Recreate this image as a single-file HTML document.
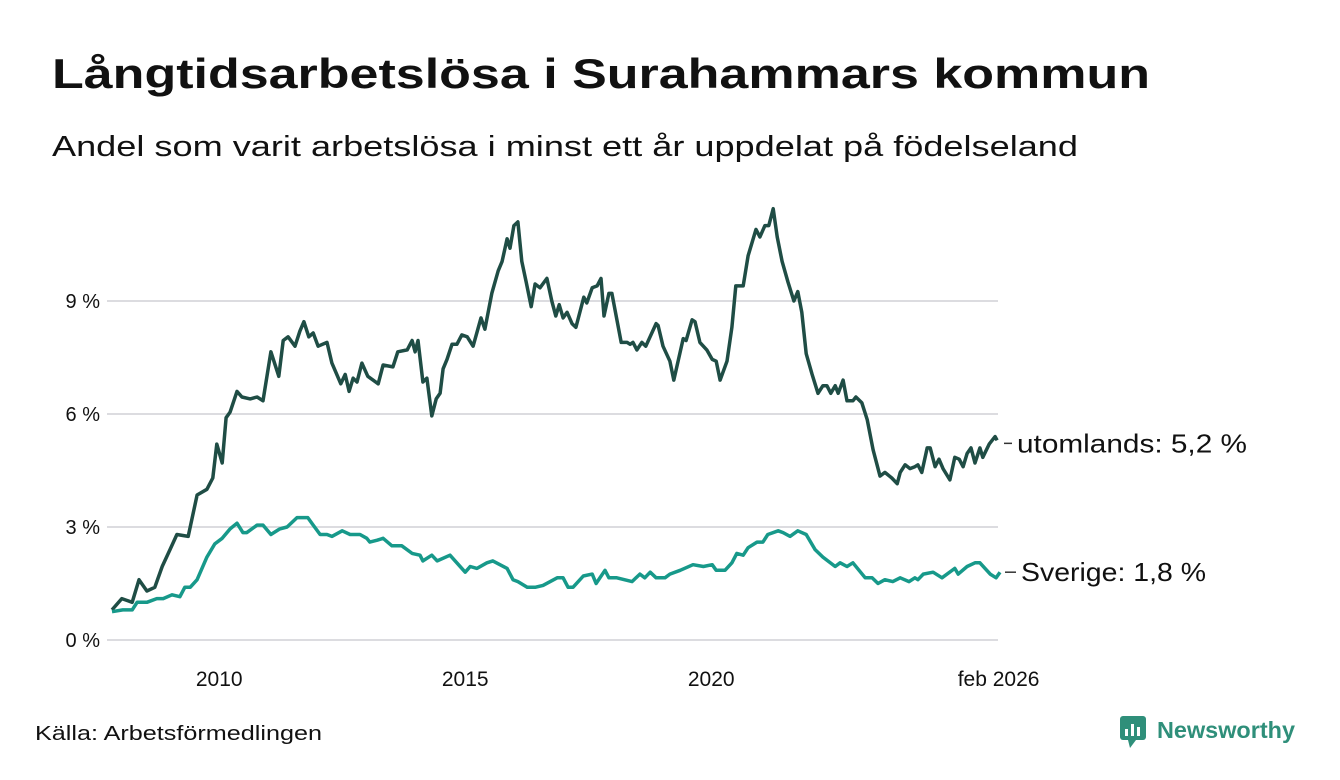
<!DOCTYPE html>
<html><head><meta charset="utf-8">
<style>
html,body{margin:0;padding:0;background:#fff;}
svg{display:block;font-family:"Liberation Sans",sans-serif;}
</style></head>
<body>
<svg id="chart" width="1340" height="780" viewBox="0 0 1340 780">
<text x="52" y="88" font-size="42" font-weight="bold" fill="#111" textLength="1098" lengthAdjust="spacingAndGlyphs">Långtidsarbetslösa i Surahammars kommun</text>
<text x="52" y="156" font-size="29" fill="#111" textLength="1026" lengthAdjust="spacingAndGlyphs">Andel som varit arbetslösa i minst ett år uppdelat på födelseland</text>
<g id="grid"></g>
<g id="yaxis"></g>
<g id="xaxis"></g>
<g id="series"></g>
<text x="35" y="740" font-size="20" fill="#111" textLength="287" lengthAdjust="spacingAndGlyphs">Källa: Arbetsförmedlingen</text>
<g>
<rect x="1120" y="716" width="26" height="24" rx="3" fill="#2f8f7a"/>
<polygon points="1128,740 1136,740 1130,748" fill="#2f8f7a"/>
<rect x="1125" y="729" width="3" height="7" fill="#fff"/><rect x="1131" y="724" width="3" height="12" fill="#fff"/><rect x="1137" y="727" width="3" height="9" fill="#fff"/>
<text x="1157" y="738" font-size="23" font-weight="bold" fill="#2f8f7a" textLength="138" lengthAdjust="spacingAndGlyphs">Newsworthy</text>
</g>
</svg>
<script>
const yTicks=[0,3,6,9];
const yTickLabels=["0 %","3 %","6 %","9 %"];
const xTicks=[2010,2015,2020,2025.8];
const xTickLabels=["2010","2015","2020","feb 2026"];
const utomDates=[2007.82,2008.02,2008.23,2008.37,2008.53,2008.69,2008.84,2009.0,2009.14,2009.37,2009.55,2009.75,2009.87,2009.95,2010.06,2010.14,2010.22,2010.36,2010.46,2010.63,2010.77,2010.89,2011.05,2011.21,2011.30,2011.40,2011.54,2011.64,2011.72,2011.82,2011.91,2012.01,2012.19,2012.29,2012.47,2012.56,2012.64,2012.72,2012.80,2012.90,2013.02,2013.23,2013.33,2013.53,2013.63,2013.82,2013.92,2013.98,2014.04,2014.14,2014.22,2014.32,2014.41,2014.49,2014.55,2014.63,2014.73,2014.83,2014.93,2015.04,2015.16,2015.32,2015.40,2015.54,2015.67,2015.75,2015.85,2015.91,2015.99,2016.07,2016.15,2016.24,2016.34,2016.42,2016.52,2016.66,2016.76,2016.84,2016.91,2016.99,2017.07,2017.17,2017.25,2017.41,2017.47,2017.58,2017.68,2017.76,2017.82,2017.92,2017.98,2018.17,2018.29,2018.35,2018.41,2018.49,2018.59,2018.67,2018.88,2018.92,2019.02,2019.16,2019.24,2019.43,2019.49,2019.61,2019.67,2019.77,2019.91,2020.02,2020.10,2020.18,2020.32,2020.42,2020.50,2020.65,2020.75,2020.91,2020.99,2021.09,2021.17,2021.26,2021.34,2021.44,2021.56,2021.68,2021.76,2021.84,2021.93,2022.05,2022.17,2022.27,2022.35,2022.43,2022.52,2022.58,2022.68,2022.76,2022.88,2022.94,2023.06,2023.17,2023.29,2023.43,2023.53,2023.67,2023.78,2023.84,2023.94,2024.04,2024.14,2024.20,2024.28,2024.39,2024.45,2024.55,2024.63,2024.71,2024.85,2024.95,2025.04,2025.12,2025.20,2025.28,2025.36,2025.46,2025.52,2025.65,2025.77,2025.81];
const utomValues=[0.8,1.1,1.0,1.6,1.3,1.4,1.95,2.4,2.8,2.75,3.85,4.0,4.3,5.2,4.7,5.9,6.05,6.6,6.45,6.4,6.45,6.35,7.65,7.0,7.95,8.05,7.8,8.2,8.45,8.05,8.15,7.8,7.9,7.35,6.8,7.05,6.6,6.95,6.85,7.35,7.0,6.8,7.3,7.25,7.65,7.7,7.95,7.65,7.95,6.85,6.95,5.95,6.4,6.55,7.2,7.45,7.85,7.85,8.1,8.05,7.8,8.55,8.25,9.2,9.8,10.05,10.65,10.4,11.0,11.1,10.05,9.5,8.85,9.45,9.35,9.6,9.0,8.6,8.9,8.55,8.7,8.4,8.3,9.1,8.95,9.35,9.4,9.6,8.6,9.2,9.2,7.9,7.9,7.85,7.9,7.7,7.9,7.8,8.4,8.35,7.8,7.4,6.9,8.0,7.95,8.5,8.45,7.9,7.7,7.45,7.4,6.9,7.4,8.3,9.4,9.4,10.2,10.9,10.7,11.0,11.0,11.45,10.7,10.05,9.5,9.0,9.25,8.7,7.6,7.05,6.55,6.75,6.75,6.55,6.75,6.55,6.9,6.35,6.35,6.45,6.3,5.85,5.05,4.35,4.45,4.3,4.15,4.45,4.65,4.55,4.6,4.65,4.45,5.1,5.1,4.6,4.8,4.55,4.25,4.85,4.8,4.6,4.95,5.1,4.7,5.1,4.85,5.2,5.4,5.3];
const sveDates=[2007.82,2008.04,2008.23,2008.33,2008.53,2008.73,2008.86,2009.04,2009.20,2009.30,2009.41,2009.55,2009.75,2009.91,2010.06,2010.22,2010.36,2010.48,2010.56,2010.77,2010.89,2011.05,2011.23,2011.38,2011.58,2011.70,2011.80,2011.91,2012.05,2012.19,2012.29,2012.50,2012.66,2012.86,2013.00,2013.06,2013.21,2013.33,2013.51,2013.71,2013.92,2014.08,2014.14,2014.32,2014.43,2014.69,2015.0,2015.10,2015.24,2015.44,2015.56,2015.85,2015.97,2016.07,2016.26,2016.42,2016.58,2016.87,2016.99,2017.09,2017.19,2017.40,2017.58,2017.66,2017.84,2017.92,2018.08,2018.39,2018.55,2018.65,2018.76,2018.88,2019.06,2019.16,2019.37,2019.63,2019.84,2020.02,2020.10,2020.28,2020.42,2020.52,2020.65,2020.75,2020.93,2021.05,2021.15,2021.36,2021.46,2021.60,2021.76,2021.93,2022.11,2022.27,2022.37,2022.52,2022.62,2022.76,2022.88,2023.13,2023.27,2023.39,2023.53,2023.69,2023.84,2024.02,2024.14,2024.20,2024.31,2024.51,2024.69,2024.95,2025.02,2025.20,2025.36,2025.46,2025.67,2025.79,2025.87];
const sveValues=[0.75,0.8,0.8,1.0,1.0,1.1,1.1,1.2,1.15,1.4,1.4,1.6,2.2,2.55,2.7,2.95,3.1,2.85,2.85,3.05,3.05,2.8,2.95,3.0,3.25,3.25,3.25,3.05,2.8,2.8,2.75,2.9,2.8,2.8,2.7,2.6,2.65,2.7,2.5,2.5,2.3,2.25,2.1,2.25,2.1,2.25,1.8,1.95,1.9,2.05,2.1,1.9,1.6,1.55,1.4,1.4,1.45,1.65,1.65,1.4,1.4,1.7,1.75,1.5,1.85,1.65,1.65,1.55,1.75,1.65,1.8,1.65,1.65,1.75,1.85,2.0,1.95,2.0,1.85,1.85,2.05,2.3,2.25,2.45,2.6,2.6,2.8,2.9,2.85,2.75,2.9,2.8,2.4,2.2,2.1,1.95,2.05,1.95,2.05,1.65,1.65,1.5,1.6,1.55,1.65,1.55,1.65,1.6,1.75,1.8,1.65,1.9,1.75,1.95,2.05,2.05,1.75,1.65,1.8];
const endLabels=["utomlands: 5,2 %","Sverige: 1,8 %"];

const NS="http://www.w3.org/2000/svg";
const x0=111,x1=996.6,d0=2007.8,d1=2025.8;
const yBase=640,pxPer=37.67;
function xs(d){return x0+(d-d0)/(d1-d0)*(x1-x0);}
function ys(v){return yBase-v*pxPer;}
function mk(tag,attrs,parent){const e=document.createElementNS(NS,tag);for(const k in attrs)e.setAttribute(k,attrs[k]);parent.appendChild(e);return e;}
const grid=document.getElementById('grid'),yax=document.getElementById('yaxis'),xax=document.getElementById('xaxis'),ser=document.getElementById('series');
yTicks.forEach((t,i)=>{
  const l=mk('line',{x1:107,x2:998,y1:ys(t),y2:ys(t),stroke:'#dcdce0','stroke-width':2},grid);
  
  
  const tx=mk('text',{x:100,y:ys(t)+7,'text-anchor':'end','font-size':20,fill:'#111'},yax);
  tx.textContent=yTickLabels[i];
  
  
});
xTicks.forEach((t,i)=>{
  const tx=mk('text',{x:xs(t)+(i==3?2:0),y:686,'text-anchor':'middle','font-size':21,fill:'#111'},xax);
  tx.textContent=xTickLabels[i];
  
  
});
function line(dates,vals,color,name){
  const p=mk('path',{d:dates.map((d,i)=>(i?'L':'M')+xs(d).toFixed(1)+','+ys(vals[i]).toFixed(1)).join(''),fill:'none',stroke:color,'stroke-width':3.5,'stroke-linejoin':'round'},ser);
  
  
}
line(utomDates,utomValues,'#1f4d45','utomlands-line');
line(sveDates,sveValues,'#17998a','sverige-line');
const lu=utomValues[utomValues.length-1], ls=sveValues[sveValues.length-1];
mk('line',{x1:1004,x2:1012,y1:ys(lu)+3,y2:ys(lu)+3,stroke:'#333','stroke-width':1.5},ser);
const t1=mk('text',{x:1017,y:ys(lu)+12,'font-size':26,fill:'#111',textLength:230,lengthAdjust:'spacingAndGlyphs'},ser);
t1.textContent=endLabels[0];


mk('line',{x1:1005,x2:1016,y1:ys(ls),y2:ys(ls),stroke:'#333','stroke-width':1.5},ser);
const t2=mk('text',{x:1021,y:ys(ls)+9,'font-size':26,fill:'#111',textLength:185,lengthAdjust:'spacingAndGlyphs'},ser);
t2.textContent=endLabels[1];


</script>
</body></html>
